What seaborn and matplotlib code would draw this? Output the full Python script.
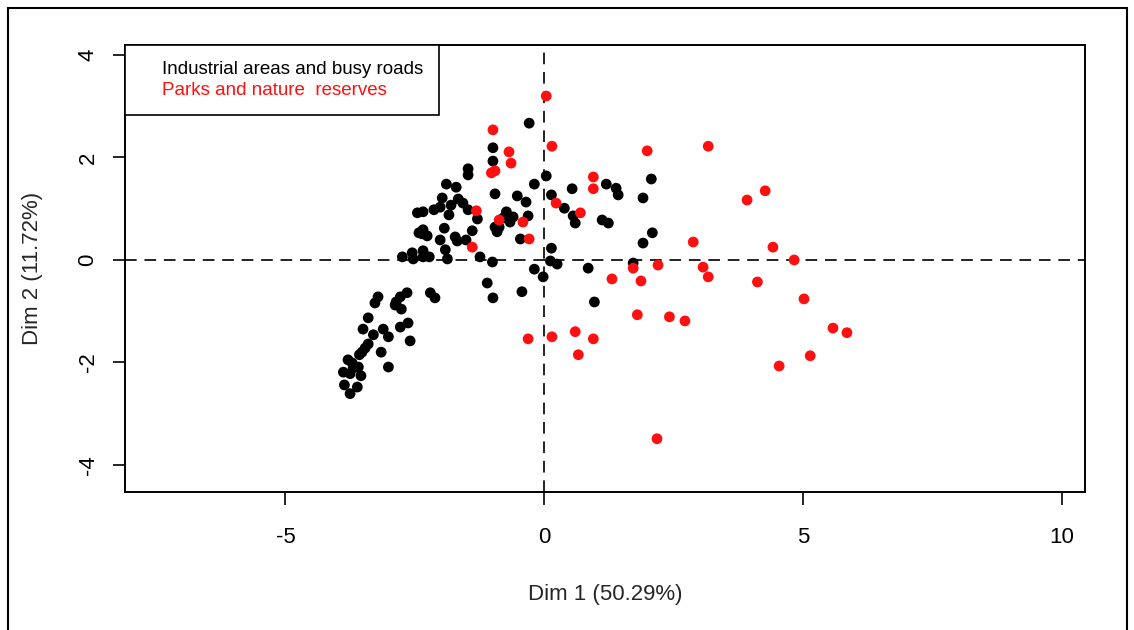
import matplotlib
matplotlib.use("Agg")
import matplotlib.pyplot as plt
from matplotlib.lines import Line2D
from matplotlib.patches import Rectangle
import seaborn as sns
import pandas as pd

# ---- data ----
industrial_x = [
    -0.29, -0.99, -0.99, -1.47, -1.47, -1.89, -1.70, -1.97, -1.66, -1.57,
    -1.80, -2.01, -2.13, -2.34, -2.45, -1.84, -1.47, -1.29, -2.34, -2.36,
    -2.26, -2.42, -1.93, -2.01, -1.72, -1.68, -1.39, -1.51, -1.91, -1.87,
    -2.74, -2.55, -2.53, -2.34, -2.34, -2.22, -1.24, -1.00, -0.95, -0.52,
    -0.35, -0.19, 0.04, 0.14, 0.39, -0.73, -0.60, -0.66, -0.79, -0.87,
    -0.95, -0.91, -0.31, -0.46, -0.19, -0.02, 0.14, 0.12, 0.25, -1.10,
    -0.99, -0.43, 0.85, 0.97, 1.72, 0.54, 0.56, 0.60, 1.20, 1.39,
    1.43, 1.12, 1.24, 1.91, 2.07, 2.09, 1.91,
    -3.21, -3.27, -2.65, -2.78, -2.86, -2.88, -2.76, -2.20, -2.11, -3.40,
    -3.50, -3.30, -3.11, -3.01, -2.78, -2.63, -2.59, -3.40, -3.46, -3.52,
    -3.57, -3.15, -3.79, -3.71, -3.88, -3.69, -3.59, -3.54, -3.75, -3.01,
    -3.86, -3.61, -3.75,
]
industrial_y = [
    2.67, 2.19, 1.93, 1.78, 1.66, 1.48, 1.42, 1.21, 1.19, 1.11,
    1.07, 1.03, 0.98, 0.94, 0.92, 0.88, 0.98, 0.80, 0.59, 0.51,
    0.47, 0.53, 0.62, 0.39, 0.45, 0.37, 0.57, 0.39, 0.20, 0.02,
    0.06, 0.14, 0.02, 0.18, 0.06, 0.06, 0.06, -0.04, 1.29, 1.25,
    1.13, 1.48, 1.64, 1.27, 1.01, 0.94, 0.84, 0.74, 0.82, 0.64,
    0.64, 0.55, 0.86, 0.41, -0.18, -0.33, 0.23, -0.02, -0.08, -0.45,
    -0.74, -0.62, -0.16, -0.82, -0.06, 1.39, 0.86, 0.72, 1.48, 1.40,
    1.27, 0.78, 0.72, 1.21, 1.58, 0.53, 0.33,
    -0.72, -0.84, -0.64, -0.72, -0.82, -0.88, -0.96, -0.64, -0.74, -1.13,
    -1.35, -1.46, -1.35, -1.50, -1.31, -1.23, -1.58, -1.64, -1.72, -1.80,
    -1.85, -1.80, -1.95, -2.01, -2.19, -2.11, -2.09, -2.26, -2.22, -2.09,
    -2.44, -2.48, -2.61,
]
parks_x = [
    0.04, -0.99, 0.15, -0.68, -0.64, -1.02, -0.95, 1.99, 0.95, 0.95,
    0.23, 0.70, -0.41, -0.29, -0.87, -1.31, -1.39,
    3.17, 3.92, 4.27, 2.88, 4.42, 4.83, 3.07, 3.17, 4.12, 5.02,
    2.72, 5.58, 5.85, 5.14, 4.54,
    1.72, 2.20, 1.31, 1.87, 1.80, 2.42, -0.31, 0.15, 0.60, 0.95,
    0.66, 2.18,
]
parks_y = [
    3.20, 2.54, 2.22, 2.11, 1.89, 1.70, 1.74, 2.13, 1.62, 1.39,
    1.11, 0.92, 0.74, 0.41, 0.78, 0.96, 0.25,
    2.22, 1.17, 1.35, 0.35, 0.25, 0.00, -0.14, -0.33, -0.43, -0.76,
    -1.19, -1.33, -1.42, -1.87, -2.07,
    -0.16, -0.10, -0.37, -0.41, -1.07, -1.11, -1.54, -1.50, -1.40, -1.54,
    -1.85, -3.49,
]
groups = ["Industrial areas and busy roads", "Parks and nature  reserves"]
group_colors = ["#000000", "#ff1010"]
x_ticks = [-5, 0, 5, 10]
y_ticks = [-4, -2, 0, 2, 4]
x_label = "Dim 1 (50.29%)"
y_label = "Dim 2 (11.72%)"

df = pd.DataFrame({
    "Dim1": industrial_x + parks_x,
    "Dim2": industrial_y + parks_y,
    "group": [groups[0]] * len(industrial_x) + [groups[1]] * len(parks_x),
})

# ---- style ----
sns.set_style("white")
plt.rcParams["font.family"] = ["Liberation Sans", "DejaVu Sans"]

fig = plt.figure(figsize=(11.34, 6.30), dpi=100)
ax = fig.add_axes([0.1102, 0.219, 0.8466, 0.7095])

sns.scatterplot(
    data=df, x="Dim1", y="Dim2", hue="group", hue_order=groups,
    palette=dict(zip(groups, group_colors)), s=60, linewidth=0,
    edgecolor="none", ax=ax, legend=False,
)

ax.axhline(0, color="#222222", lw=1.4, ls=(0, (6, 4)), zorder=0)
ax.axvline(0, color="#222222", lw=1.4, ls=(0, (6, 4)), zorder=0)

ax.set_xlim(-8.10, 10.45)
ax.set_ylim(-4.53, 4.195)
ax.set_xticks(x_ticks)
ax.set_yticks(y_ticks)
ax.set_xticklabels([str(t) for t in x_ticks])
ax.set_yticklabels([str(t) for t in y_ticks], rotation=90, va="center")

for sp in ax.spines.values():
    sp.set_visible(True)
    sp.set_color("black")
    sp.set_linewidth(1.4)

ax.tick_params(axis="x", direction="out", length=9, width=1.2, pad=16,
               labelsize=16, colors="black", bottom=True)
ax.tick_params(axis="y", direction="out", length=9, width=1.2, pad=10,
               labelsize=16, colors="black", left=True)

ax.set_xlabel(x_label, fontsize=16, labelpad=26)
ax.set_ylabel(y_label, fontsize=16, labelpad=25)

# legend: text only, coloured labels, square box at top-left corner
handles = [Line2D([], [], linestyle="none", marker=None) for _ in groups]
leg = ax.legend(
    handles, groups, loc="upper left", bbox_to_anchor=(0.0, 1.0),
    borderaxespad=0.0, frameon=True, fancybox=False, framealpha=1.0,
    fontsize=13.5, handlelength=0.6, handletextpad=0.5, borderpad=0.85,
    labelspacing=0.2, labelcolor=group_colors,
)
leg.get_frame().set_edgecolor("black")
leg.get_frame().set_linewidth(1.2)

# outer border around the whole figure
fig.patches.append(Rectangle((8 / 1134, -0.05), 1119 / 1134, 1.05 - 8 / 630,
                             transform=fig.transFigure, fill=False,
                             edgecolor="black", linewidth=1.5))

fig.savefig("out.png", dpi=100)
